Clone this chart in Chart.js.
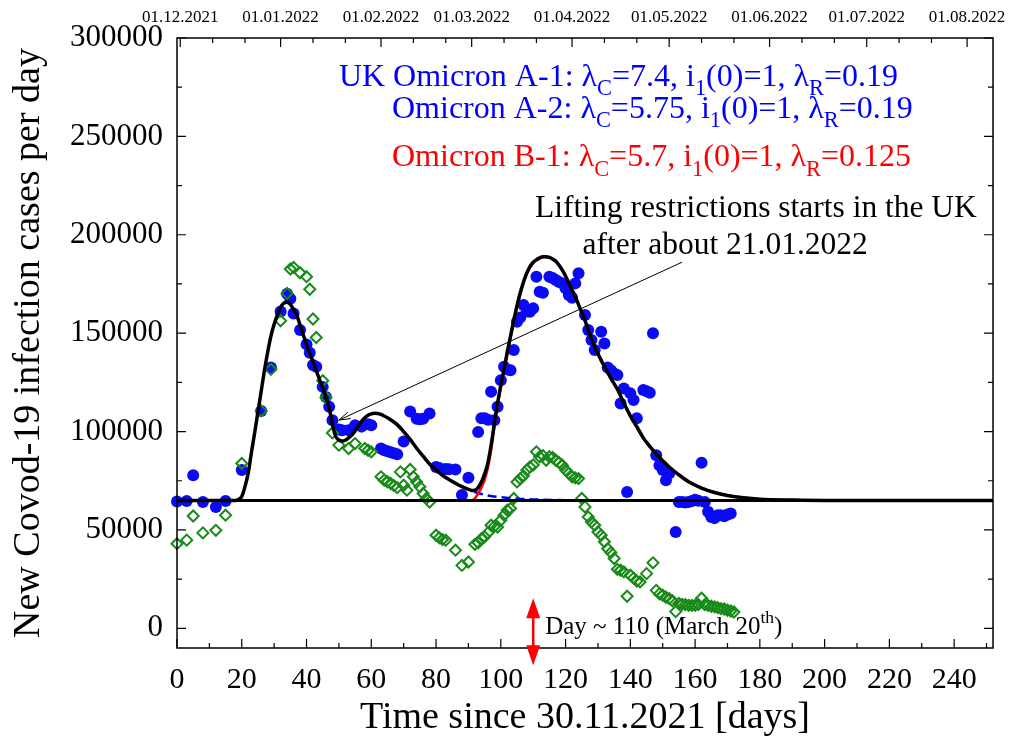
<!DOCTYPE html>
<html>
<head>
<meta charset="utf-8">
<script src="https://cdn.jsdelivr.net/npm/chart.js@4.4.0/dist/chart.umd.min.js"></script>
<style>
  html, body { margin: 0; padding: 0; background: #fff; }
</style>
</head>
<body>
<canvas id="myChart" width="1018" height="741"></canvas>
<script>
// tick values and labels
var xTicks = [0, 20, 40, 60, 80, 100, 120, 140, 160, 180, 200, 220, 240];
var yTicks = [0, 50000, 100000, 150000, 200000, 250000, 300000];
var monthDays = [1, 32, 63, 91, 122, 152, 183, 213, 244];
var monthLabels = ["01.12.2021", "01.01.2022", "01.02.2022", "01.03.2022", "01.04.2022",
  "01.05.2022", "01.06.2022", "01.07.2022", "01.08.2022"];
var minorTopDays = [11, 21, 42, 52, 73, 83, 101, 111, 132, 142, 162, 172, 193, 203, 223, 233];

// UK data (blue dots)
var blueDays = [0, 3, 5, 8, 12, 15, 20, 26, 29, 32, 34, 35, 36, 38, 40, 41, 42, 43, 45, 46, 47, 48,
  50, 51, 53, 55, 57, 59, 60, 63, 64, 65, 66, 67, 68, 70, 72, 74, 75, 76, 78, 80, 81, 83, 84, 86,
  88, 90, 93, 94, 95, 96, 97, 98, 99, 100, 101, 102, 103, 104, 105, 106, 107, 108, 109, 110, 111,
  112, 113, 115, 116, 117, 118, 119, 120, 121, 122, 123, 124, 126, 127, 128, 129, 131, 132, 133,
  134, 135, 136, 137, 138, 139, 140, 141, 142, 144, 145, 146, 147, 148, 149, 150, 151, 152, 154,
  155, 156, 157, 158, 159, 160, 161, 162, 163, 164, 165, 166, 167, 168, 169, 170, 171];
var blueCases = [64500, 64700, 77800, 64200, 61700, 64700, 80400, 110400, 132500, 161000, 170000,
  167500, 160000, 151600, 144300, 140000, 133800, 132900, 122700, 117600, 112600, 105800,
  101000, 100700, 100700, 103200, 102500, 103700, 103200, 91400, 90500, 90000, 89500, 89000,
  88500, 95000, 110200, 106500, 106300, 106500, 109200, 82000, 81500, 81000, 80800, 80700,
  67800, 76500, 99800, 106700, 106700, 106000, 120200, 105800, 112600, 126100, 132900, 131500,
  131200, 141400, 155800, 158000, 164300, 161000, 160900, 162600, 178700, 171100, 170500,
  178700, 178000, 177000, 176000, 175300, 172800, 169400, 168000, 175300, 180400, 159200,
  151600, 146500, 141400, 150700, 144800, 132500, 131200, 129500, 128700, 114300, 121900,
  69300, 119400, 116000, 106700, 121100, 120500, 119700, 149900, 88000, 82900, 80400, 75300,
  78700, 49000, 64200, 64200, 64000, 64200, 64700, 65400, 64800, 84100, 64200, 59200, 56600,
  56000, 57500, 57500, 57000, 57800, 58300];

// second data set (green diamonds)
var greenDays = [0, 3, 5, 8, 12, 15, 20, 26, 29, 32, 34, 35, 36, 38, 40, 41, 42, 43, 45, 46, 48,
  50, 53, 55, 58, 59, 60, 63, 64, 65, 66, 67, 68, 69, 70, 71, 72, 73, 74, 75, 76, 77, 78, 80, 81,
  82, 83, 86, 88, 90, 92, 93, 94, 95, 96, 97, 98, 99, 100, 101, 102, 103, 104, 105, 106, 107,
  108, 109, 110, 111, 112, 113, 114, 115, 116, 117, 118, 119, 120, 121, 122, 123, 124, 125, 126,
  127, 128, 129, 130, 131, 132, 133, 134, 135, 136, 137, 138, 139, 140, 141, 142, 143, 145, 147,
  148, 149, 150, 151, 152, 153, 154, 155, 156, 157, 158, 159, 160, 161, 162, 163, 164, 165, 166,
  167, 168, 169, 170, 171, 172];
var greenCases = [43000, 44800, 57100, 48500, 49800, 57500, 83800, 110500, 131600, 156300,
  170200, 182600, 183400, 180700, 178700, 172300, 157200, 147800, 125800, 117300, 99300,
  93100, 91400, 93900, 91400, 90500, 89700, 77000, 75300, 74500, 73600, 72500, 71500, 79500,
  72700, 70200, 80700, 77000, 74400, 71900, 68500, 66000, 64200, 47300, 46000, 45100, 44800,
  39700, 32000, 33700, 42700, 43500, 45600, 46500, 48500, 52400, 51800, 51500, 54900, 57500,
  60000, 60900, 66000, 74400, 76000, 77500, 80400, 82000, 83000, 89700, 87200, 87800, 85400,
  87200, 86800, 85400, 84200, 82900, 80400, 78800, 77000, 76500, 76100, 66000, 61700, 56600,
  54000, 52400, 49000, 47300, 44000, 40500, 38500, 35500, 30000, 29500, 28700, 16300, 27000,
  25500, 24000, 23600, 27800, 33300, 19300, 17500, 16800, 15800, 15100, 14000, 8500, 12600,
  12200, 12000, 11700, 11700, 11700, 12000, 15300, 12000, 11700, 11200, 10900, 10500, 10000,
  9800, 9200, 8800, 8300];

// model total (black curve)
var modelDays = [0, 10, 18, 19, 20, 21, 22, 23, 24, 25, 26, 27, 28, 29, 30, 31, 32, 33, 34, 35, 36,
  37, 38, 39, 40, 41, 42, 43, 44, 45, 46, 47, 48, 49, 50, 51, 52, 53, 54, 55, 56, 57, 58, 59, 60,
  61, 62, 63, 64, 65, 66, 68, 70, 72, 74, 76, 78, 80, 82, 84, 86, 88, 90, 91, 92, 93, 94, 95, 96,
  97, 98, 99, 100, 101, 102, 103, 104, 105, 106, 107, 108, 109, 110, 111, 112, 113, 114, 115,
  116, 117, 118, 119, 120, 121, 122, 123, 124, 125, 126, 127, 128, 129, 130, 131, 132, 134, 136,
  138, 140, 142, 144, 146, 148, 150, 152, 155, 158, 162, 166, 170, 175, 180, 190, 200, 252];
var modelCases = [65000, 65000, 65000, 65500, 67000, 72000, 79000, 89500, 99500, 110000, 120500,
  131000, 140300, 148500, 154500, 159200, 163300, 165300, 165700, 164600, 162000, 159000,
  154200, 149200, 144000, 139800, 135500, 131000, 126500, 122300, 117500, 112000, 103500,
  97700, 95700, 95200, 95600, 96800, 98200, 100300, 102800, 105200, 107000, 108300, 109000,
  109300, 109200, 108700, 107900, 107000, 106000, 103500, 100000, 96000, 91500, 87500, 83500,
  80500, 77800, 75600, 73700, 72000, 70600, 70100, 70200, 71500, 74300, 78500, 84000, 93000,
  104000, 114500, 123500, 131500, 140500, 148500, 156500, 164000, 170500, 176000, 180500,
  183800, 186000, 187300, 188300, 188800, 188800, 188500, 187700, 186500, 184500, 182000,
  179000, 175500, 172000, 168500, 164500, 160500, 156500, 151500, 147000, 143000, 139500,
  136200, 133200, 127000, 121500, 114500, 108000, 102500, 96800, 92500, 88600, 85200, 82000,
  78000, 74500, 71300, 69000, 67500, 66300, 65600, 65200, 65000, 65000];

// Omicron B-1 (red)
var redDays = [0, 91, 92, 93, 94, 95, 96, 97, 98, 99, 100, 101, 102, 103, 104, 105, 106, 107, 108,
  110, 112, 114, 116, 118, 120, 122, 124, 126, 128, 130, 132, 134, 136, 138, 140, 144, 148, 152,
  158, 166, 175, 180, 190, 200, 252];
var redCases = [65000, 65000, 66000, 68500, 71500, 75500, 81500, 90500, 102000, 113000, 122500,
  130500, 139500, 147500, 155500, 163000, 169700, 175400, 180000, 185700, 188200, 188700,
  187700, 184500, 179000, 172000, 164500, 156500, 147000, 139500, 133200, 127000, 121500,
  114500, 108000, 96800, 88600, 82000, 74500, 69000, 66300, 65600, 65200, 65000, 65000];

// Omicron A tail (blue dashed)
var aDays = [84, 86, 88, 90, 92, 94, 96, 100, 105, 110, 120, 130, 252];
var aCases = [75600, 73700, 72000, 70600, 69300, 68300, 67500, 66600, 65900, 65500, 65100, 65000, 65000];

// constant background level
var baseDays = [0, 252];
var baseCases = [65000, 65000];

var serif = "'Liberation Serif', 'Times New Roman', serif";

function pairs(xs, ys) {
  var out = [];
  for (var i = 0; i < xs.length; i++) out.push({ x: xs[i], y: ys[i] });
  return out;
}

// text with sub/superscripts
function richText(ctx, parts, x, y, size, color, align) {
  var total = 0;
  parts.forEach(function (p) {
    ctx.font = (p[1] ? size * 0.7 : size) + "px " + serif;
    total += ctx.measureText(p[0]).width;
  });
  var cx = align === "center" ? x - total / 2 : x;
  ctx.fillStyle = color;
  ctx.textBaseline = "alphabetic";
  ctx.textAlign = "left";
  parts.forEach(function (p) {
    var s = p[1] ? size * 0.7 : size;
    ctx.font = s + "px " + serif;
    var dy = p[1] === "sub" ? size * 0.3 : (p[1] === "sup" ? -size * 0.45 : 0);
    ctx.fillText(p[0], cx, y + dy);
    cx += ctx.measureText(p[0]).width;
  });
}

var decor = {
  id: "decor",
  afterDraw: function (chart) {
    var ctx = chart.ctx, a = chart.chartArea, x = chart.scales.x, y = chart.scales.y;
    ctx.save();
    ctx.strokeStyle = "#000";
    ctx.lineWidth = 1.5;
    ctx.strokeRect(a.left, a.top, a.right - a.left, a.bottom - a.top);

    ctx.lineWidth = 1.2;
    ctx.beginPath();
    for (var d = 0; d <= 250; d += 10) {
      var px = x.getPixelForValue(d), len = d % 20 === 0 ? 9 : 5;
      ctx.moveTo(px, a.bottom); ctx.lineTo(px, a.bottom - len);
    }
    for (var v = 0; v <= 300000; v += 25000) {
      var py = y.getPixelForValue(v), l2 = v % 50000 === 0 ? 9 : 5;
      ctx.moveTo(a.left, py); ctx.lineTo(a.left + l2, py);
      ctx.moveTo(a.right, py); ctx.lineTo(a.right - l2, py);
    }
    monthDays.forEach(function (m) {
      var p = x.getPixelForValue(m);
      ctx.moveTo(p, a.top); ctx.lineTo(p, a.top + 9);
    });
    minorTopDays.forEach(function (m) {
      var p = x.getPixelForValue(m);
      ctx.moveTo(p, a.top); ctx.lineTo(p, a.top + 5);
    });
    ctx.stroke();

    // parameter lines
    richText(ctx, [["UK Omicron A-1: λ"], ["C", "sub"], ["=7.4, i"], ["1", "sub"], ["(0)=1, λ"], ["R", "sub"], ["=0.19"]],
      x.getPixelForValue(50), y.getPixelForValue(275700), 32, "#0000ff");
    richText(ctx, [["Omicron A-2: λ"], ["C", "sub"], ["=5.75, i"], ["1", "sub"], ["(0)=1, λ"], ["R", "sub"], ["=0.19"]],
      x.getPixelForValue(66.4), y.getPixelForValue(259400), 32, "#0000ff");
    richText(ctx, [["Omicron B-1: λ"], ["C", "sub"], ["=5.7, i"], ["1", "sub"], ["(0)=1, λ"], ["R", "sub"], ["=0.125"]],
      x.getPixelForValue(66.4), y.getPixelForValue(235000), 32, "#ff0000");

    // note about lifting restrictions
    richText(ctx, [["Lifting restrictions starts in the UK"]],
      x.getPixelForValue(178.8), y.getPixelForValue(209000), 31.5, "#000", "center");
    richText(ctx, [["after about 21.01.2022"]],
      x.getPixelForValue(169.3), y.getPixelForValue(190200), 31.5, "#000", "center");

    var x0 = x.getPixelForValue(156), y0 = y.getPixelForValue(186100);
    var x1 = x.getPixelForValue(50), y1 = y.getPixelForValue(105800);
    ctx.strokeStyle = "#000";
    ctx.lineWidth = 1;
    ctx.beginPath();
    ctx.moveTo(x0, y0); ctx.lineTo(x1, y1);
    var ang = Math.atan2(y0 - y1, x0 - x1);
    ctx.moveTo(x1 + 12 * Math.cos(ang + 0.3), y1 + 12 * Math.sin(ang + 0.3));
    ctx.lineTo(x1, y1);
    ctx.lineTo(x1 + 12 * Math.cos(ang - 0.3), y1 + 12 * Math.sin(ang - 0.3));
    ctx.stroke();

    // red double arrow at day 110
    var ax = x.getPixelForValue(110);
    var aTop = y.getPixelForValue(15300), aBot = y.getPixelForValue(-18800);
    ctx.strokeStyle = "#ff0000";
    ctx.fillStyle = "#ff0000";
    ctx.lineWidth = 2.5;
    ctx.beginPath();
    ctx.moveTo(ax, aTop + 10); ctx.lineTo(ax, aBot - 10);
    ctx.stroke();
    ctx.beginPath();
    ctx.moveTo(ax, aTop); ctx.lineTo(ax - 7, aTop + 20); ctx.lineTo(ax + 7, aTop + 20); ctx.closePath();
    ctx.moveTo(ax, aBot); ctx.lineTo(ax - 7, aBot - 20); ctx.lineTo(ax + 7, aBot - 20); ctx.closePath();
    ctx.fill();

    richText(ctx, [["Day ~ 110 (March 20"], ["th", "sup"], [")"]],
      x.getPixelForValue(113.7), y.getPixelForValue(-3000), 25, "#000");
    ctx.restore();
  }
};

function createChart() {
  var ctx = document.getElementById("myChart").getContext("2d");
  var myChart = new Chart(ctx, {
    type: "scatter",
    data: {
      datasets: [
        {
          label: "UK data",
          data: pairs(blueDays, blueCases),
          backgroundColor: "#0a0af5",
          borderColor: "#0a0af5",
          pointRadius: 6,
          borderWidth: 0,
          clip: false,
          order: 7
        },
        {
          label: "data 2",
          data: pairs(greenDays, greenCases),
          pointStyle: "rectRot",
          backgroundColor: "rgba(0,0,0,0)",
          borderColor: "#188a18",
          borderWidth: 2,
          pointRadius: 5.5,
          clip: false,
          order: 6
        },
        {
          label: "Omicron A",
          data: pairs(aDays, aCases),
          showLine: true,
          borderColor: "#0000ff",
          borderWidth: 2.5,
          borderDash: [9, 5],
          pointRadius: 0,
          cubicInterpolationMode: "monotone",
          order: 4
        },
        {
          label: "Omicron B-1",
          data: pairs(redDays, redCases),
          showLine: true,
          borderColor: "#ff0000",
          borderWidth: 2.5,
          pointRadius: 0,
          cubicInterpolationMode: "monotone",
          order: 3
        },
        {
          label: "model",
          data: pairs(modelDays, modelCases),
          showLine: true,
          borderColor: "#000",
          borderWidth: 3.5,
          pointRadius: 0,
          cubicInterpolationMode: "monotone",
          order: 2
        },
        {
          label: "base",
          data: pairs(baseDays, baseCases),
          showLine: true,
          borderColor: "#000",
          borderWidth: 3,
          pointRadius: 0,
          order: 1
        }
      ]
    },
    options: {
      responsive: false,
      animation: false,
      events: [],
      layout: { padding: { left: 0, right: 25, top: 0, bottom: 0 } },
      plugins: { legend: { display: false }, tooltip: { enabled: false } },
      scales: {
        x: {
          type: "linear",
          position: "bottom",
          min: 0,
          max: 252,
          afterBuildTicks: function (s) { s.ticks = xTicks.map(function (v) { return { value: v }; }); },
          afterFit: function (s) { s.height = 93; s.paddingLeft = 0; s.paddingRight = 0; },
          grid: { display: false, drawTicks: false },
          border: { display: false },
          ticks: { font: { family: serif, size: 30 }, color: "#000", padding: 14, maxRotation: 0, autoSkip: false },
          title: { display: true, text: "Time since 30.11.2021 [days]", color: "#000",
            font: { family: serif, size: 38 }, padding: { top: 0, bottom: 0 } }
        },
        xTop: {
          type: "linear",
          position: "top",
          min: 0,
          max: 252,
          afterBuildTicks: function (s) { s.ticks = monthDays.map(function (v) { return { value: v }; }); },
          afterFit: function (s) { s.height = 38; s.paddingLeft = 0; s.paddingRight = 0; },
          grid: { display: false, drawTicks: false },
          border: { display: false },
          ticks: {
            font: { family: serif, size: 17 }, color: "#000", padding: 10, maxRotation: 0, autoSkip: false,
            callback: function (v, i) { return monthLabels[i]; }
          }
        },
        y: {
          type: "linear",
          min: -10000,
          max: 300000,
          afterBuildTicks: function (s) { s.ticks = yTicks.map(function (v) { return { value: v }; }); },
          afterFit: function (s) { s.width = 177; s.paddingTop = 0; s.paddingBottom = 0; },
          grid: { display: false, drawTicks: false },
          border: { display: false },
          ticks: {
            font: { family: serif, size: 31 }, color: "#000", padding: 14,
            callback: function (v) { return String(v); }
          },
          title: { display: true, text: "New Covod-19 infection cases per day", color: "#000",
            font: { family: serif, size: 38 }, padding: { top: 6, bottom: 0 } }
        }
      }
    },
    plugins: [decor]
  });
}

createChart();
</script>
</body>
</html>
